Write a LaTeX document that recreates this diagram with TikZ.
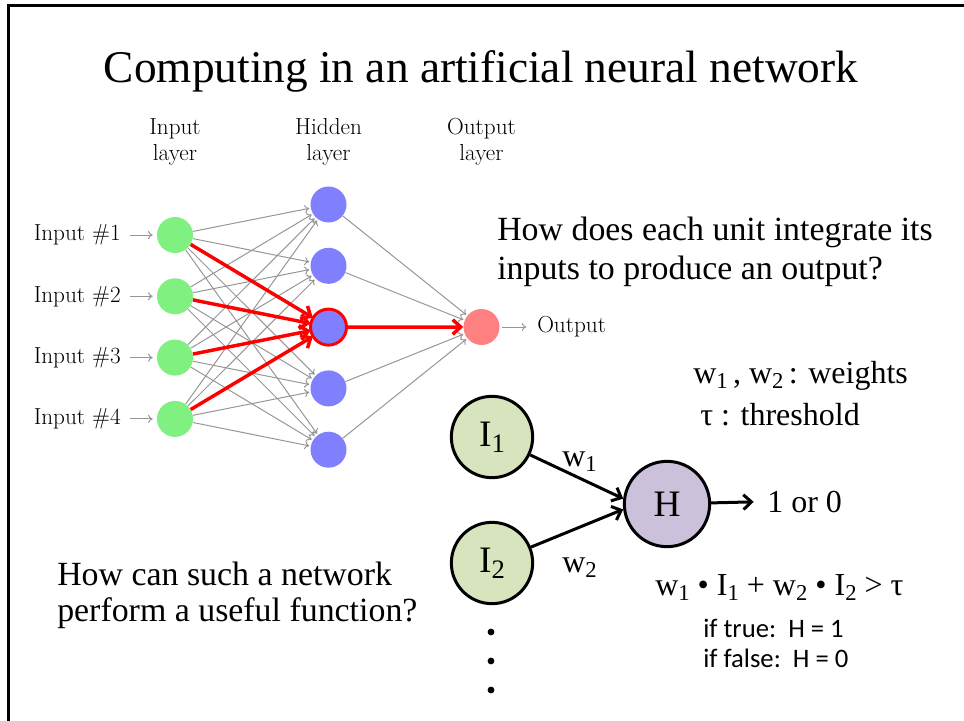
\documentclass[tikz,border=0pt]{standalone}
\usepackage{fontspec}
\newfontfamily\slidefont{Liberation Serif}
\newfontfamily\calfont{Carlito}
\usetikzlibrary{arrows.meta}

\definecolor{inGreen}{RGB}{128,240,128}
\definecolor{hidBlue}{RGB}{128,128,255}
\definecolor{outRed}{RGB}{255,128,128}
\definecolor{edgeGray}{RGB}{150,150,150}
\definecolor{unitGreen}{RGB}{215,228,189}
\definecolor{unitPurple}{RGB}{204,193,218}
\definecolor{hotRed}{RGB}{255,0,0}

% lowered index for unit names and weights
\newcommand{\lowidx}[1]{\raisebox{-0.35ex}{\fontsize{17}{17}\selectfont #1}}
\newcommand{\bigidx}[1]{\raisebox{-0.35ex}{\fontsize{20}{20}\selectfont #1}}

\begin{document}
\begin{tikzpicture}[x=0.75pt,y=-0.75pt,
  neuron/.style={circle,minimum size=27pt,inner sep=0pt},
  inneuron/.style={neuron,fill=inGreen},
  hidneuron/.style={neuron,fill=hidBlue},
  outneuron/.style={neuron,fill=outRed},
  netlabel/.style={font=\fontsize{17.4}{19.5}\selectfont,inner sep=0pt},
  gedge/.style={draw=edgeGray,line width=0.75pt,-{To[length=3.5pt,width=6pt]},shorten >=1pt},
  pinedge/.style={draw=edgeGray,line width=0.75pt,-{To[length=3.5pt,width=6pt]}},
  redge/.style={draw=hotRed,line width=2.6pt,-{Straight Barb[length=6pt,width=11pt]}},
  unit/.style={circle,draw=black,line width=2.25pt,inner sep=0pt,font=\slidefont\fontsize{28}{28}\selectfont},
  link/.style={draw=black,line width=2.25pt,-{Straight Barb[length=6pt,width=11pt]}},
  slide/.style={font=\slidefont\fontsize{25.4}{29}\selectfont,inner sep=0pt,anchor=base west},
  slidesm/.style={font=\slidefont\fontsize{24}{29}\selectfont,inner sep=0pt,anchor=base west},
  small/.style={font=\calfont\fontsize{20}{22}\selectfont,inner sep=0pt,anchor=base west},
  ]
\useasboundingbox (0,0) rectangle (964,721);

% slide frame
\draw[line width=2.25pt] (8,721) -- (8,5) -- (964,5);

% title
\node[font=\slidefont\fontsize{34}{40}\selectfont,inner sep=0pt,anchor=base] (title) at (481,82) {Computing in an artificial neural network};

% ---- feed-forward network ----
\foreach \i in {1,...,4}
  \node[inneuron] (I-\i) at (175,{235+61.3*(\i-1)}) {};
\foreach \j in {1,...,5}
  \node[hidneuron] (H-\j) at (328.5,{204.5+61.3*(\j-1)}) {};
\node[outneuron] (O) at (481.5,327) {};
\node[hidneuron,draw=hotRed,line width=2.2pt] at (H-3) {};

% input labels and pins
\foreach \i in {1,...,4} {
  \node[netlabel,anchor=east] (L-\i) at (121,{235+61.3*(\i-1)}) {Input \#\i};
  \draw[pinedge,shorten <=7pt,shorten >=3pt] (L-\i.east) -- (I-\i.west);
}
\node[netlabel,anchor=west] (Lout) at (537,327) {Output};
\draw[pinedge,shorten <=2pt,shorten >=8pt] (O.east) -- (Lout.west);

% layer captions
\node[netlabel,align=center] (capI) at (175,142) {Input\\layer};
\node[netlabel,align=center] (capH) at (328.5,142) {Hidden\\layer};
\node[netlabel,align=center] (capO) at (481.5,142) {Output\\layer};

% all connections
\foreach \i in {1,...,4}
  \foreach \j in {1,2,4,5}
    \draw[gedge] (I-\i) -- (H-\j);
\foreach \j in {1,2,4,5}
  \draw[gedge] (H-\j) -- (O);

% highlighted path into and out of the third hidden unit
\foreach \i in {1,...,4}
  \draw[redge] (I-\i) -- (H-3);
\draw[redge] (H-3) -- (O);

% ---- single threshold unit ----
\node[unit,fill=unitGreen,minimum size=61pt] (U1) at (492,437) {I\bigidx{1}};
\node[unit,fill=unitGreen,minimum size=61pt] (U2) at (492,563) {I\bigidx{2}};
\node[unit,fill=unitPurple,minimum size=64pt] (UH) at (667,504) {H};
\draw[link] (U1) -- (UH.173);
\draw[link] (U2) -- (UH.187);
\node[slidesm] (res) at (767,512) {1 or 0};
\draw[link,shorten >=10pt] (UH) -- (res.west);
\node[slidesm] (w1) at (562,466) {w\lowidx{1}};
\node[slidesm] (w2) at (562,572) {w\lowidx{2}};

% further inputs
\foreach \k/\yy in {1/632,2/661,3/690}
  \fill (491,\yy) circle (3.4);

% text
\node[slide] (q1) at (497,240) {How does each unit integrate its};
\node[slide] (q2) at (497,279) {inputs to produce an output?};
\node[slidesm] (legw) at (693,383) {w\lowidx{1}\,, w\lowidx{2}\,: weights};
\node[slidesm] (legt) at (700,425) {τ : threshold};
\node[slidesm] (eq) at (655,595) {w\lowidx{1} • I\lowidx{1} + w\lowidx{2} • I\lowidx{2} > τ};
\node[small] (c1) at (703,637) {if true:\ \ H = 1};
\node[small] (c2) at (703,667) {if false:\ \ H = 0};
\node[slide] (q3) at (57,585) {How can such a network};
\node[slide] (q4) at (57,621) {perform a useful function?};
\end{tikzpicture}
\end{document}
